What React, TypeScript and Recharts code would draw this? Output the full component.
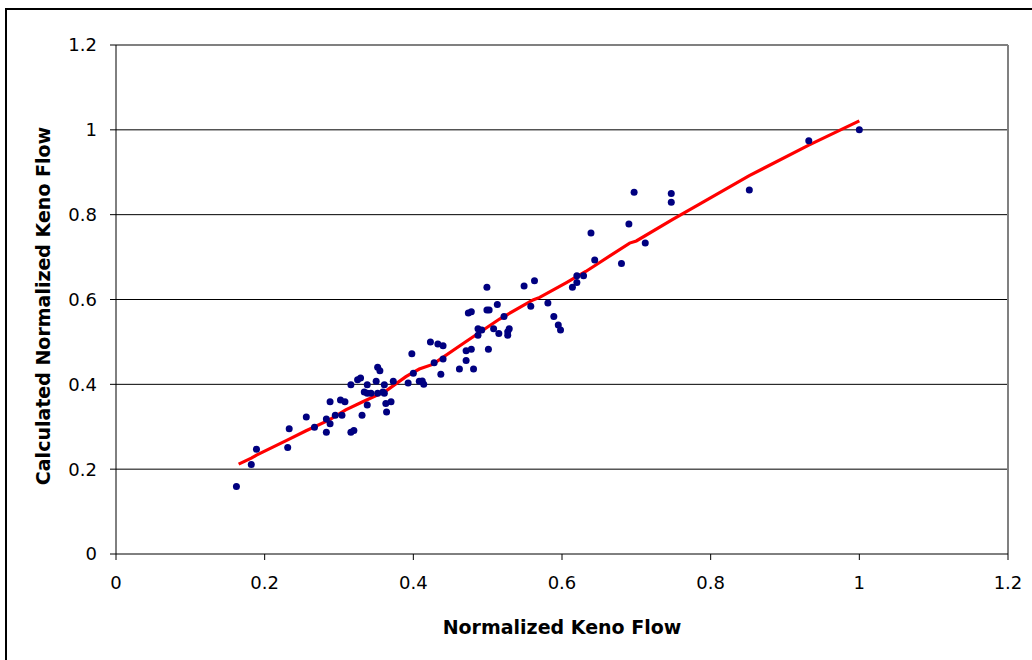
import React from 'react'
import {
  ScatterChart,
  Scatter,
  XAxis,
  YAxis,
  ReferenceLine
} from 'recharts'

// observed (normalized) vs calculated keno flow
const flowX = [
  0.162, 0.182, 0.189, 0.231, 0.233, 0.256, 0.267, 0.283, 0.283, 0.288,
  0.288, 0.295, 0.304, 0.302, 0.308, 0.316, 0.320, 0.331, 0.316, 0.325,
  0.329, 0.338, 0.334, 0.338, 0.343, 0.338, 0.350, 0.352, 0.355, 0.352,
  0.361, 0.359, 0.361, 0.363, 0.370, 0.364, 0.373, 0.398, 0.400, 0.393,
  0.408, 0.412, 0.414, 0.423, 0.428, 0.433, 0.440, 0.437, 0.440, 0.462,
  0.471, 0.471, 0.478, 0.481, 0.474, 0.478, 0.487, 0.487, 0.492, 0.499,
  0.499, 0.502, 0.501, 0.508, 0.513, 0.515, 0.522, 0.527, 0.529, 0.527,
  0.549, 0.563, 0.558, 0.581, 0.589, 0.595, 0.598, 0.614, 0.620, 0.620,
  0.629, 0.639, 0.644, 0.680, 0.690, 0.697, 0.712, 0.747, 0.747, 0.852,
  0.932, 1.0
]
const calcY = [
  0.159, 0.211, 0.247, 0.251, 0.295, 0.323, 0.299, 0.287, 0.318, 0.307,
  0.359, 0.327, 0.327, 0.363, 0.359, 0.287, 0.291, 0.327, 0.399, 0.411,
  0.415, 0.399, 0.382, 0.379, 0.379, 0.351, 0.407, 0.440, 0.432, 0.379,
  0.399, 0.382, 0.379, 0.355, 0.359, 0.335, 0.407, 0.472, 0.426, 0.403,
  0.407, 0.408, 0.400, 0.500, 0.451, 0.495, 0.491, 0.424, 0.460, 0.436,
  0.456, 0.479, 0.483, 0.436, 0.568, 0.571, 0.516, 0.531, 0.528, 0.629,
  0.575, 0.575, 0.483, 0.531, 0.588, 0.520, 0.560, 0.516, 0.531, 0.524,
  0.632, 0.644, 0.584, 0.592, 0.560, 0.540, 0.528, 0.629, 0.656, 0.640,
  0.656, 0.757, 0.693, 0.685, 0.778, 0.853, 0.733, 0.850, 0.829, 0.858,
  0.974, 1.0
]

// model curve
const fitX = [
  0.165, 0.182, 0.189, 0.231, 0.255, 0.287, 0.309, 0.332, 0.363, 0.390,
  0.408, 0.426, 0.471, 0.516, 0.561, 0.570, 0.606, 0.618, 0.632, 0.646,
  0.691, 0.700, 0.749, 0.785, 0.852, 0.932, 1.0
]
const fitY = [
  0.212, 0.226, 0.233, 0.269, 0.290, 0.316, 0.340, 0.359, 0.384, 0.418,
  0.436, 0.447, 0.501, 0.554, 0.599, 0.605, 0.640, 0.652, 0.666, 0.682,
  0.733, 0.738, 0.789, 0.825, 0.892, 0.964, 1.021
]

const xTicks = [0, 0.2, 0.4, 0.6, 0.8, 1, 1.2]
const yTicks = [0, 0.2, 0.4, 0.6, 0.8, 1, 1.2]
const gridLines = [0.2, 0.4, 0.6, 0.8, 1]

const points = flowX.map((x, i) => ({ x, y: calcY[i] }))
const fit = fitX.map((x, i) => ({ x, y: fitY[i] }))

const font = 'DejaVu Sans, Verdana, sans-serif'
const fmt = (v: number) => String(Math.round(v * 10) / 10)

const Dot = (p: any) => <circle cx={p.cx} cy={p.cy} r={3.5} fill="#000080" />

export default function App() {
  return (
    <div style={{ position: 'absolute', left: 0, top: 0, width: 1032, height: 660, background: '#fff', overflow: 'hidden' }}>
      <div style={{ position: 'absolute', left: 5, top: 8, width: 1100, height: 700, borderLeft: '2px solid #000', borderTop: '2px solid #000' }} />
      <div style={{ position: 'absolute', left: 0, top: 0 }}>
        <ScatterChart width={1032} height={660} margin={{ top: 45, right: 24, bottom: 0, left: 0 }}>
          <XAxis
            type="number"
            dataKey="x"
            domain={[0, 1.2]}
            ticks={xTicks}
            tickFormatter={fmt}
            height={106}
            tickSize={6}
            tickMargin={16}
            stroke="#000"
            tick={{ fill: '#000', fontSize: 18, fontFamily: font }}
            label={{
              content: () => (
                <text x={562} y={634} textAnchor="middle" fontFamily={font} fontWeight="bold" fontSize={19} fill="#000">
                  Normalized Keno Flow
                </text>
              )
            }}
          />
          <YAxis
            type="number"
            dataKey="y"
            domain={[0, 1.2]}
            ticks={yTicks}
            tickFormatter={fmt}
            width={116}
            tickSize={6}
            tickMargin={13}
            stroke="#000"
            tick={{ fill: '#000', fontSize: 18, fontFamily: font }}
            label={{
              content: () => (
                <text x={50} y={306} transform="rotate(-90 50 306)" textAnchor="middle" fontFamily={font} fontWeight="bold" fontSize={19} fill="#000">
                  Calculated Normalized Keno Flow
                </text>
              )
            }}
          />
          {gridLines.map(v => (
            <ReferenceLine key={v} y={v} stroke="#000" strokeWidth={1} ifOverflow="visible" />
          ))}
          <ReferenceLine y={1.2} stroke="#808080" strokeWidth={2} />
          <ReferenceLine x={1.2} stroke="#808080" strokeWidth={2} />
          <Scatter
            data={fit}
            line={{ stroke: '#ff0000', strokeWidth: 3.2 }}
            shape={() => <g />}
            isAnimationActive={false}
          />
          <Scatter data={points} shape={Dot} isAnimationActive={false} />
        </ScatterChart>
      </div>
    </div>
  )
}
